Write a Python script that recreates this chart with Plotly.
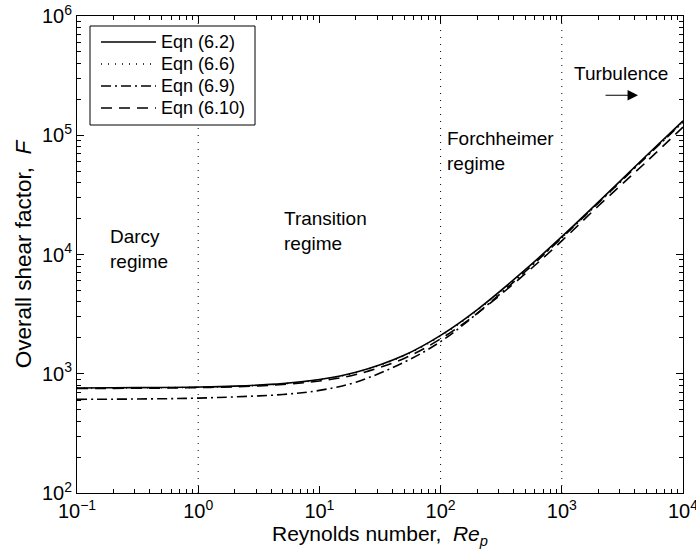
import plotly.graph_objects as go

# Reynolds number sample points
re_p = [0.1, 0.2, 0.5, 1, 2, 5, 10, 20, 50, 100, 200, 500, 1000, 2000, 5000, 10000]

# Overall shear factor F for each equation
f_eq62 = [760, 763, 767, 773, 787, 827, 894, 1028, 1430, 2100, 3440, 7460, 14100, 27500, 67600, 132000]
f_eq66 = [757, 760, 764, 770, 784, 824, 890, 1022, 1415, 2070, 3390, 7330, 13850, 27000, 66500, 130000]
f_eq69 = [610, 612, 617, 625, 640, 670, 725, 850, 1250, 1860, 3200, 7200, 13800, 27000, 66000, 129000]
f_eq610 = [752, 754, 758, 765, 778, 812, 870, 985, 1345, 1960, 3200, 6900, 13000, 25500, 60000, 117000]

series_names = ["Eqn (6.2)", "Eqn (6.6)", "Eqn (6.9)", "Eqn (6.10)"]
series_vals = [f_eq62, f_eq66, f_eq69, f_eq610]
series_dash = ["solid", "1px,6px", "10px,4px,2px,4px", "11px,7px"]

# regime boundaries (vertical dotted lines)
boundaries = [1, 100, 1000]

x_ticks = [0.1, 1, 10, 100, 1000, 10000]
x_ticktext = ["10<sup>−1</sup>", "10<sup>0</sup>", "10<sup>1</sup>", "10<sup>2</sup>", "10<sup>3</sup>", "10<sup>4</sup>"]
y_ticks = [100, 1000, 10000, 100000, 1000000]
y_ticktext = ["10<sup>2</sup>", "10<sup>3</sup>", "10<sup>4</sup>", "10<sup>5</sup>", "10<sup>6</sup>"]

FONT = "Arial, Liberation Sans, sans-serif"
NB = "\u00a0"

# plot-area geometry in pixels (for placing the legend box)
W, H = 696, 560
ML, MR, MT, MB = 77, 13, 16, 67
PW, PH = W - ML - MR, H - MT - MB


def px_x(px):
    return (px - ML) / PW


def px_y(py):
    return (H - MB - py) / PH


fig = go.Figure()

for b in boundaries:
    fig.add_trace(go.Scatter(x=[b, b], y=[100, 1e6], mode="lines",
                             line=dict(color="black", width=1, dash="1px,6px"),
                             showlegend=False, hoverinfo="skip"))

for name, vals, dash in zip(series_names, series_vals, series_dash):
    fig.add_trace(go.Scatter(x=re_p, y=vals, mode="lines", name=name, showlegend=False,
                             line=dict(color="black", width=1.6, dash=dash, shape="spline")))

axis_common = dict(
    type="log", showgrid=False, zeroline=False, automargin=False,
    showline=True, linecolor="black", linewidth=1, mirror="allticks",
    ticks="inside", ticklen=7, tickcolor="black",
    minor=dict(ticks="inside", ticklen=4, tickcolor="black", dtick="D1", showgrid=False),
    tickfont=dict(family=FONT, size=20, color="black"),
    ticklabeloverflow="allow",
)

fig.update_xaxes(range=[-1, 4], tickvals=x_ticks, ticktext=x_ticktext,
                 title=dict(text="Reynolds number," + NB + NB + "<i>Re</i><sub><i>p</i></sub>",
                            font=dict(family=FONT, size=21, color="black"), standoff=5),
                 **axis_common)
fig.update_yaxes(range=[2, 6], tickvals=y_ticks, ticktext=y_ticktext,
                 title=dict(text="Overall shear factor," + NB + NB + "<i>F</i>",
                            font=dict(family=FONT, size=22.5, color="black"), standoff=4),
                 **axis_common)

annot_font = dict(family=FONT, size=19, color="black")
notes = [
    (-0.744, 4.05, "Darcy<br>regime"),
    (0.691, 4.20, "Transition<br>regime"),
    (2.036, 4.87, "Forchheimer<br>regime"),
    (3.084, 5.518, "Turbulence"),
]
for x, y, t in notes:
    fig.add_annotation(x=x, y=y, xref="x", yref="y", text=t, showarrow=False,
                       xanchor="left", yanchor="middle", align="left", font=annot_font)

fig.add_annotation(x=3.629, y=5.335, xref="x", yref="y", text="", showarrow=True,
                   ax=-34, ay=0, arrowhead=2, arrowsize=1.9, arrowwidth=1.1, arrowcolor="black")

# legend box (drawn to mimic the MATLAB legend layout)
fig.add_shape(type="rect", xref="paper", yref="paper",
              x0=px_x(90), x1=px_x(255), y0=px_y(125), y1=px_y(26),
              line=dict(color="black", width=1), fillcolor="white", layer="above")
row_y = [42, 64, 86, 108]
for name, dash, ry in zip(series_names, series_dash, row_y):
    fig.add_shape(type="line", xref="paper", yref="paper",
                  x0=px_x(101), x1=px_x(156), y0=px_y(ry), y1=px_y(ry),
                  line=dict(color="black", width=1.6, dash=dash), layer="above")
    fig.add_annotation(x=px_x(159), y=px_y(ry), xref="paper", yref="paper", text=name,
                       showarrow=False, xanchor="left", yanchor="middle",
                       font=dict(family=FONT, size=18, color="black"))

fig.update_layout(
    width=W, height=H,
    margin=dict(l=ML, r=MR, t=MT, b=MB),
    paper_bgcolor="white", plot_bgcolor="white",
    font=dict(family=FONT, color="black"),
    showlegend=False,
)

fig.write_html("out.html")
